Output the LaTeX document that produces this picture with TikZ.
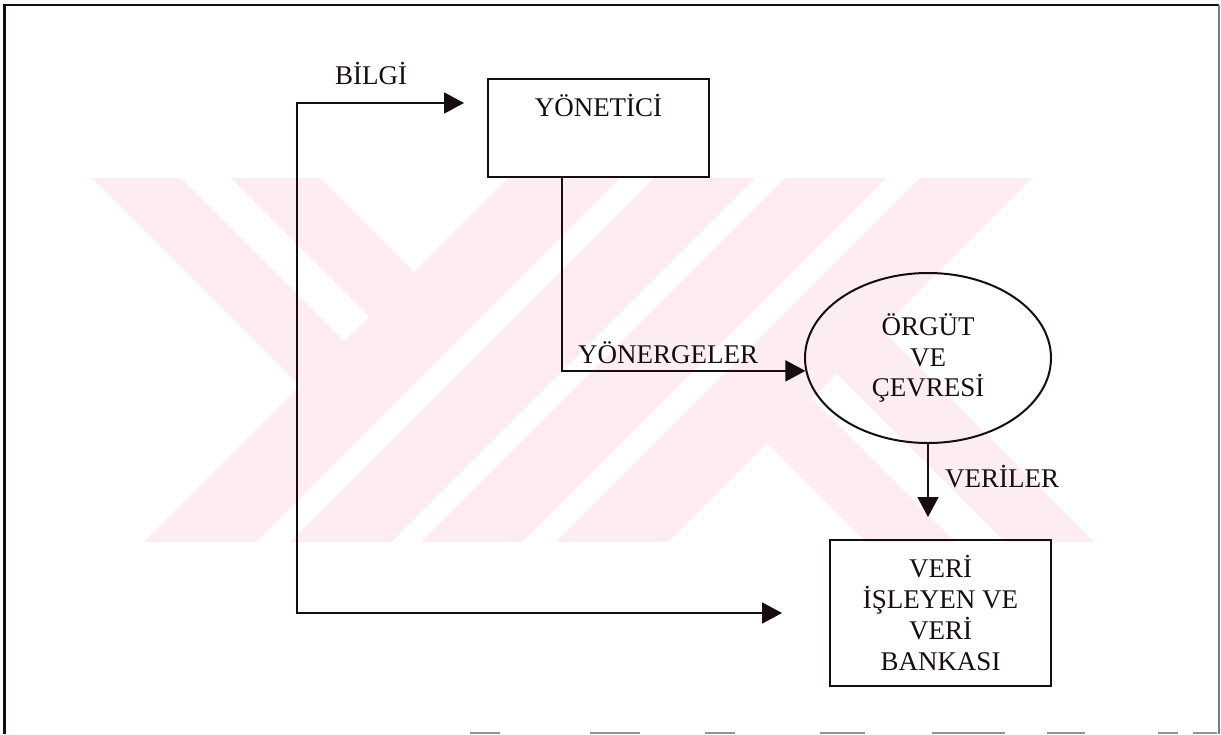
\documentclass[tikz,border=0pt]{standalone}
\usepackage{fontspec}
\setmainfont{Liberation Serif}
\usetikzlibrary{arrows.meta,shapes.geometric,calc}

\definecolor{ink}{RGB}{22,14,14}
\definecolor{wmpink}{RGB}{253,236,240}

\tikzset{
  txt/.style={font=\fontsize{27}{30.7}\selectfont, text=ink},
  lbl/.style={txt, inner sep=0pt},
  boxnode/.style={txt, draw=ink, line width=2pt, rectangle, minimum width=221pt,
                  inner sep=0pt, align=center},
  orgnode/.style={txt, draw=ink, line width=2pt, ellipse, minimum width=246pt,
                  minimum height=170pt, inner sep=0pt, align=center},
  tip/.style={Triangle[length=20pt,width=21pt]},
  flow/.style={draw=ink, line width=1.8pt, -{Triangle[length=20pt,width=21pt]}},
  loopline/.style={draw=ink, line width=1.8pt,
                   {Triangle[length=20pt,width=21pt]}-{Triangle[length=20pt,width=21pt]}},
  wm/.style={fill=wmpink, draw=none},
  frame/.style={draw=ink, line width=2.4pt},
}

\begin{document}
\begin{tikzpicture}[x=1pt,y=-1pt]
\useasboundingbox (0,0) rectangle (1221,734);
\fill[white] (0,0) rectangle (1221,734);

% background emblem: diagonal bands
\begin{scope}
  \clip (0,178) rectangle (1221,541);
  % rising bands
  \fill[wm] (516,170) -- (628,170) -- (248,550) -- (136,550) -- cycle;
  \fill[wm] (662,170) -- (763,170) -- (383,550) -- (282,550) -- cycle;
  \fill[wm] (793,170) -- (894,170) -- (514,550) -- (413,550) -- cycle;
  \fill[wm] (928,170) -- (1040,170) -- (660,550) -- (548,550) -- cycle;
  % falling bands, upper left
  \fill[wm] (84,170) -- (173,170) -- (346.5,343.5) -- (302,388) -- cycle;
  \fill[wm] (223,170) -- (312,170) -- (416,274) -- (371.5,318.5) -- cycle;
  % falling bands, lower right
  \fill[wm] (765,441) -- (809.5,396.5) -- (963,550) -- (874,550) -- cycle;
  \fill[wm] (834.5,371.5) -- (879,327) -- (1102,550) -- (1013,550) -- cycle;
\end{scope}

% outer frame
\draw[frame] (4.5,734) -- (4.5,5) -- (1219,5);
\draw[draw=ink!55, line width=1.4pt] (1219,5) -- (1219,734);
\foreach \a/\b in {470/500, 590/640, 705/735, 820/865, 932/1005, 1047/1085, 1158/1178, 1193/1217}
  \draw[ink!45, line width=1.5pt] (\a,733) -- (\b,733);

% blocks
\node[boxnode, minimum height=98pt, text height=20pt, text depth=44pt] (yon) at (598.5,128) {YÖNETİCİ};
\node[orgnode] (org) at (928,358) {ÖRGÜT\\VE\\ÇEVRESİ};
\node[boxnode, minimum height=146pt] (dat) at (940.5,613) {VERİ\\İŞLEYEN VE\\VERİ\\BANKASI};

% labels
\node[lbl, anchor=base] (bilgi) at (371,84) {BİLGİ};
\node[lbl, anchor=base west] (yonerge) at (578,363) {YÖNERGELER};
\node[lbl, anchor=base west] (veriler) at (945,487) {VERİLER};

% free ends of the connectors
\coordinate (verTip) at (928,517);
\coordinate (bilgiTip) at (464,103);
\coordinate (loopNW) at (297,103);
\coordinate (loopSW) at (297,613);
\coordinate (bankTip) at (782,613);

% connectors
\draw[flow] ($(yon.south)+(-36.5,0)$) |- (org.186);
\draw[flow] (org.south) -- (verTip);
\draw[loopline] (bilgiTip) -- (loopNW) -- (loopSW) -- (bankTip);
\end{tikzpicture}
\end{document}
